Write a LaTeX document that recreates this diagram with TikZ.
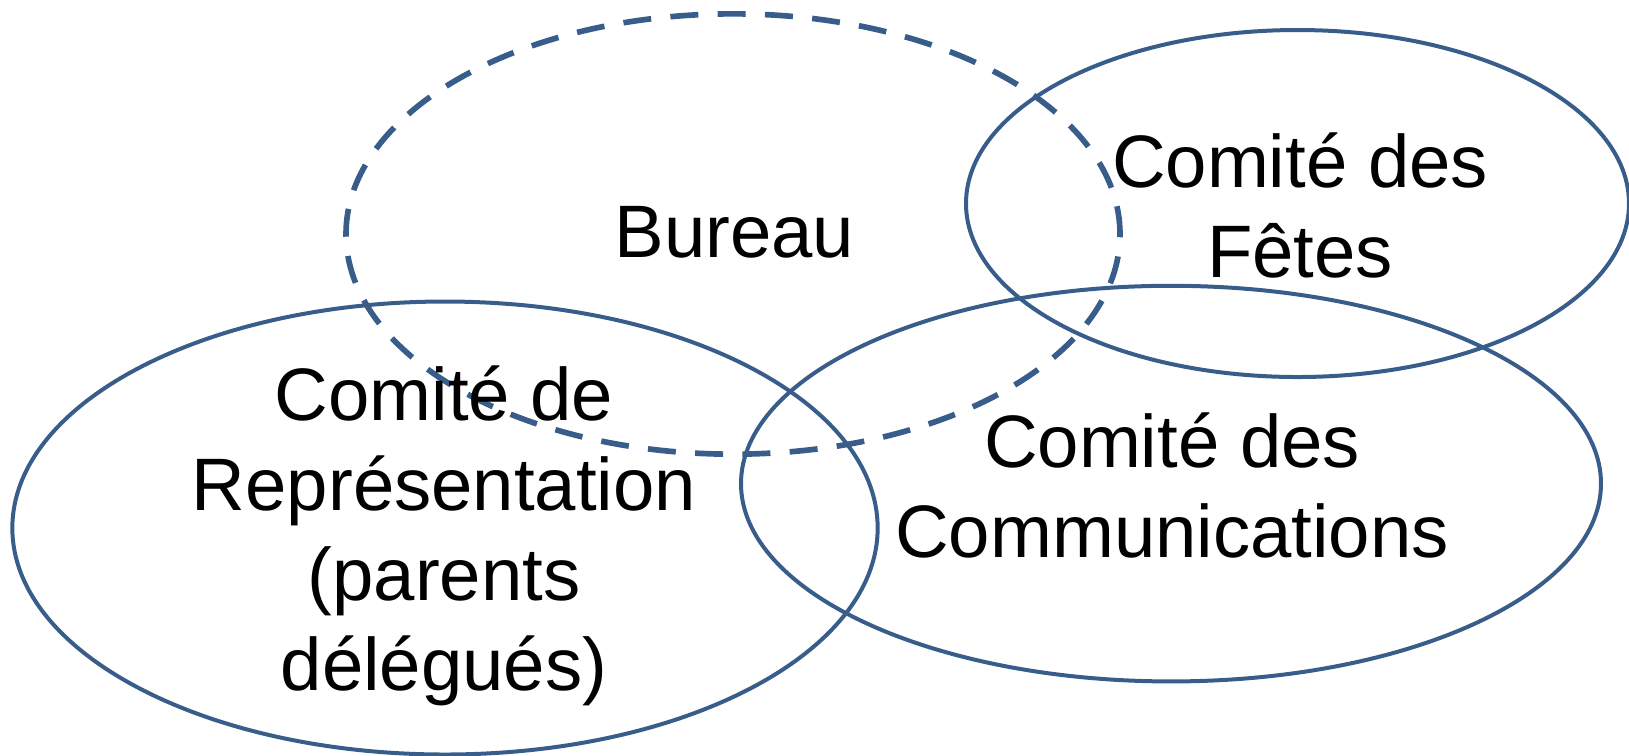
\documentclass[tikz,border=0pt]{standalone}
\usepackage{fontspec}
\setmainfont{Liberation Sans}
\usetikzlibrary{shapes.geometric}
\definecolor{comiteblue}{RGB}{56,93,138}
\tikzset{
  vennpic/.style={
    x=0.3pt,y=-0.3pt
    ,inner sep=0pt
    ,outer sep=0pt
  }
  ,cercle/.style={ellipse,draw=comiteblue,line width=1.2pt}
  ,bureaucercle/.style={cercle,line width=1.7pt,dash pattern=on 8.4pt off 5.8pt}
  ,nom/.style={
    anchor=base
    ,align=center
    ,font=\fontsize{22.3}{27}\selectfont
  }
}
\begin{document}
\begin{tikzpicture}[vennpic]
    \useasboundingbox (0,0) rectangle (1629,755);
    % cercles
    \node[bureaucercle,minimum width=232.2pt,minimum height=132.1pt] (bureaubox) at (733,234) {};
    \node[cercle,minimum width=198.9pt,minimum height=104.1pt] (fetesbox) at (1297.5,203.5) {};
    \node[cercle,minimum width=258pt,minimum height=118.7pt] (commbox) at (1171,483.6) {};
    \node[cercle,minimum width=259.6pt,minimum height=135.9pt] (reprbox) at (445,528) {};
    % noms
    \node[nom] (bureaunm) at (734.5,257) {Bureau};
    \node[nom] (fetesnm) at (1300,277) {Comité des\\Fêtes};
    \node[nom] (commnm) at (1172,557) {Comité des\\Communications};
    \node[nom] (reprnm) at (444,690) {Comité de\\Représentation\\(parents\\délégués)};
\end{tikzpicture}
\end{document}
